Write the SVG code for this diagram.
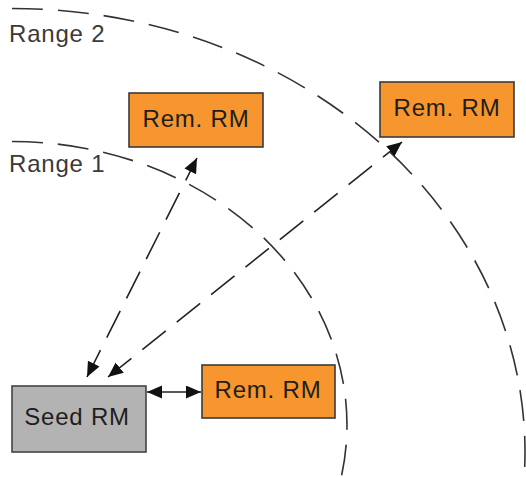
<svg xmlns="http://www.w3.org/2000/svg" width="526" height="477" viewBox="0 0 526 477">
<style>
.range{fill:none;stroke:#333;stroke-width:1.6;stroke-dasharray:31 15}
.conn{fill:none;stroke:#222;stroke-width:1.6}
.dash{stroke-dasharray:30 14}
.rem{fill:#F7962F;stroke:#3a3a3a;stroke-width:1.6}
.seed{fill:#B3B3B3;stroke:#444;stroke-width:1.6}
.lbl{font-family:"Liberation Sans",Arial,sans-serif;font-size:24px;letter-spacing:0.8px;fill:#1e1e1e;text-anchor:middle}
.rlbl{font-family:"Liberation Sans",Arial,sans-serif;font-size:24px;letter-spacing:0.8px;fill:#3a3a3a}
</style>
<defs>
<marker id="ah" markerUnits="userSpaceOnUse" markerWidth="16" markerHeight="14" refX="15" refY="6.5" orient="auto-start-reverse">
<path d="M0,0 L15,6.5 L0,13 z" fill="#111"/>
</marker>
</defs>
<g id="ranges">
<path class="range" d="M12,8.5 A513,443.5 0 0 1 524.2,477"/>
<path class="range" d="M12,141.5 A335,283.5 0 0 1 341.3,477"/>
<text class="rlbl" x="9" y="42">Range 2</text>
<text class="rlbl" x="9" y="172">Range 1</text>
</g>
<g id="connectors">
<line class="conn dash" x1="87" y1="377" x2="197" y2="158" marker-start="url(#ah)" marker-end="url(#ah)"/>
<line class="conn dash" x1="108" y1="377" x2="402" y2="142" marker-start="url(#ah)" marker-end="url(#ah)"/>
<line class="conn" x1="147" y1="392" x2="201" y2="392" marker-start="url(#ah)" marker-end="url(#ah)"/>
</g>
<g id="rem1">
<rect class="rem" x="129" y="93" width="134" height="54"/>
<text class="lbl" x="196" y="127">Rem. RM</text>
</g>
<g id="rem2">
<rect class="rem" x="380" y="82" width="134" height="55"/>
<text class="lbl" x="447" y="116">Rem. RM</text>
</g>
<g id="rem3">
<rect class="rem" x="202" y="365" width="133" height="53"/>
<text class="lbl" x="268" y="398">Rem. RM</text>
</g>
<g id="seed">
<rect class="seed" x="12" y="386" width="134" height="66"/>
<text class="lbl" x="77" y="425">Seed RM</text>
</g>
</svg>
